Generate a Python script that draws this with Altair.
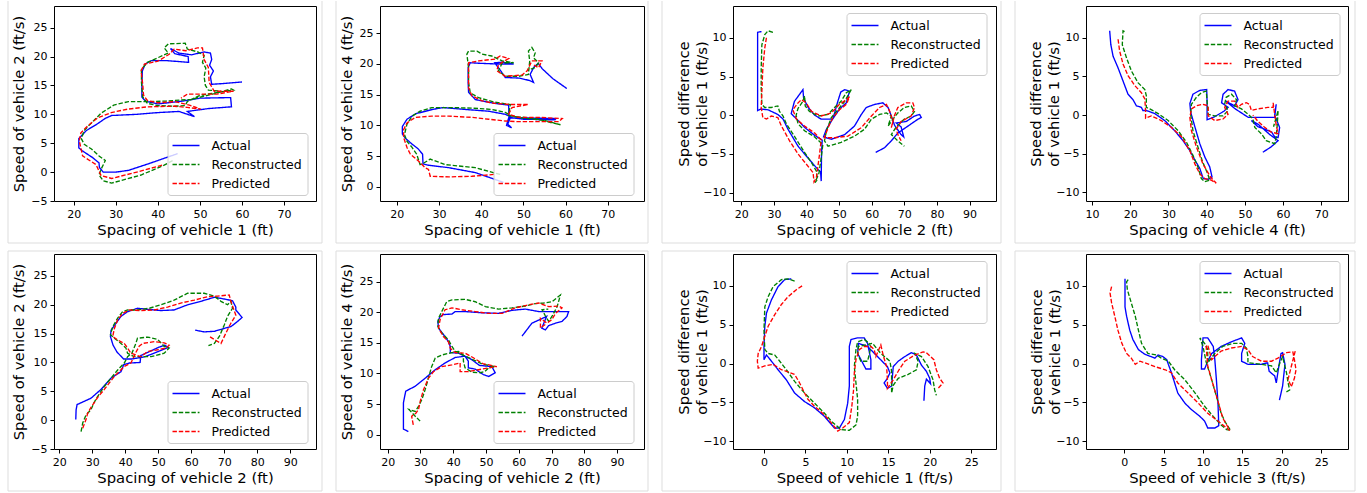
import altair as alt
import pandas as pd

SERIES = ["Actual", "Reconstructed", "Predicted"]
COLORS = ["#0000ff", "#008000", "#ff0000"]
DASHES = [[1, 0], [4.4, 1.9], [4.4, 1.9]]

# ---------------- panel 1: spacing of vehicle 1 vs speed of vehicle 2
p1_actual = [(44.7,3.2),(38,1.5),(33,0.3),(30,0.0),(27,0.0),(26.1,0.8),(26.0,1.6),(24.5,2.5),(22,3.7),(21.2,4.2),(21.2,5.8),(23,7.2),(25.5,8.3),(27.5,9.3),(29,9.8),(35,10.0),(40,10.3),(45,10.5),(48.7,9.6),(47,10.5),(52,11.0),(57.5,11.3),(57.3,12.9),(50,12.8),(46,12.3),(40,11.8),(37,12.3),(36.2,13),(36.2,15),(36.3,17.5),(37,18.7),(38.5,19.3),(42,19.3),(47.3,19.0),(47.2,20.0),(44,20.5),(43,21.4),(45,20.6),(48,20.3),(51,20.8),(52.5,20.6),(52.8,19.5),(52.3,18.5),(53.2,17.5),(52.5,16.5),(52.8,15.2),(55,15.3),(60,15.6)]
p1_recon = [(43.5,2.0),(41.5,1.2),(36,-0.5),(32,-1.3),(29,-1.9),(27,-1.5),(26,-0.5),(26.5,0.5),(27.5,2.0),(26,2.8),(24.2,4.0),(22.5,4.8),(21.8,5.8),(22.5,7.2),(23.5,8.0),(26.5,10.2),(29.5,11.6),(33,12.2),(38,12.2),(42,12.3),(48,12.6),(53,13.5),(57.5,14.4),(58.0,14.2),(53.5,13.7),(50,13.3),(47,12.2),(46.5,11.5),(44,11.4),(40,11.5),(37.5,11.9),(36.4,13),(36.1,15.5),(36.1,17.8),(37.5,19.0),(40,19.8),(42.5,20.6),(41.5,21.5),(42.5,22.2),(46.5,22.3),(47,21.3),(49.5,20.8),(51,20.2),(50.6,19),(51.4,18),(51,16.5),(51.3,15),(52,14.2),(55,14.0)]
p1_pred = [(41,1.2),(35,0.0),(29,-1.1),(26.5,-0.6),(25.3,1.3),(22.1,2.8),(21.7,4.2),(21.3,5.4),(21.7,6.8),(23.3,8.0),(25.7,9.4),(28.9,10.3),(32.8,10.9),(37.6,11.3),(43.9,11.4),(47,11.2),(50.2,10.9),(47.5,11.6),(44,12.2),(40,12.0),(37.5,12.4),(36.6,13.3),(36.4,15.2),(36,17.5),(36.8,18.7),(40,19.2),(42.7,20.4),(43.9,21.3),(46.6,21.0),(49.4,21.5),(50.6,21.5),(51,19.5),(52,18.1),(52.2,15.5),(53.4,14.0),(58,14.0),(54,13.5),(47,13.5),(45.5,12.8)]

# ---------------- panel 2: spacing of vehicle 1 vs speed of vehicle 4
p2_actual = [(45.3,0.7),(38.6,2.3),(32.3,3.1),(27.5,3.5),(26.2,3.7),(26.1,5.3),(25.0,6.2),(23.5,7.0),(22.0,7.9),(21.3,8.6),(21.3,9.8),(22.4,11.0),(24.5,11.9),(28.5,12.6),(31,12.9),(36,12.6),(41.8,12.3),(45.7,11.8),(47,11.4),(46.3,10.2),(47.2,9.6),(46.0,10.0),(46.5,11.2),(51,11.2),(57.7,11.1),(57.5,10.9),(50,11.0),(46.6,11.3),(46.5,13.3),(43,13.6),(38.6,14.2),(37,15.4),(36.9,17),(36.9,19.4),(37.4,20.2),(40,20.1),(44,20.0),(47.7,20.0),(45,20.3),(43.2,20.2),(44.5,19.0),(45.7,17.8),(49,17.7),(51.5,17.3),(52.4,17.0),(51.6,18.3),(52.5,19.5),(53.5,20.1),(54.5,19.2),(57,17.6),(60.3,16.0)]
p2_recon = [(44.5,2.0),(38.6,3.1),(31.5,3.6),(27.9,4.5),(26.5,3.9),(25.5,3.6),(24.7,5.3),(23.6,6.4),(22.4,7.4),(21.8,8.5),(22.4,10.2),(23.6,11.5),(25.5,12.3),(28.3,12.9),(33,12.9),(37.8,12.8),(42.5,12.6),(45.7,12.1),(47.3,11.5),(52.8,11.1),(56.8,10.4),(58.8,10.1),(55,10.8),(49.7,11.2),(46.5,11.6),(46.9,13.4),(43,13.8),(39.4,14.5),(37.4,15.3),(37,17),(37,19.4),(36.6,21.6),(37,22.1),(39,22.1),(40.2,21.6),(42.5,21.3),(45,20.5),(47.7,20.2),(45,20.2),(44.1,18.9),(45.7,18.0),(48.9,18.0),(51.2,18.3),(51.5,20.5),(51.2,22.1),(52,22.7),(52.8,21.8),(52.4,21.0),(53.6,20.2),(52.8,19.4),(51,19)]
p2_pred = [(43,2.0),(37.8,1.7),(32.3,1.6),(27.9,1.7),(27.5,2.8),(26.7,3.1),(25.1,4.2),(23.2,5.3),(22.4,6.4),(21.6,8.0),(21.6,9.3),(22.4,10.4),(24.4,11.3),(28.3,11.5),(32.3,11.5),(37.8,11.3),(41.8,11.0),(45.7,10.7),(48.9,10.6),(54,10.6),(58.4,10.6),(59.2,11.1),(54,11.3),(48.9,11.3),(46.5,11.8),(47.3,12.9),(51.2,13.4),(47,13.4),(43,13.6),(40.2,14.0),(37.8,14.8),(37,16.1),(37,18.9),(37,20.2),(39.4,20.5),(43.3,20.8),(44.5,21.3),(46.5,20.9),(44.1,19.9),(43.7,18.9),(45.7,18.0),(49.7,18.2),(50.9,18.9),(52,20.5),(54.4,20.5),(53.6,19.4),(52.5,19.8)]

# ---------------- panel 3: spacing of vehicle 2 vs speed difference of vehicle 1
p3_actual = [(26.2,10.8),(25.0,10.7),(25.0,7),(25.0,3),(25.0,0.6),(26,0.8),(28.2,0.7),(31.2,0.1),(32.8,-0.5),(34.3,-1.8),(37.4,-4.0),(40.4,-5.5),(43.5,-7.0),(44.3,-7.3),(44.5,-8.5),(44.6,-5),(44.8,-3.2),(42.5,-2.6),(39.5,-1.6),(37,-0.5),(35.3,0.2),(36.3,1.8),(38.9,3.3),(39.1,2.2),(40.5,1.0),(42.5,0),(44.5,-0.5),(48,-0.5),(48.6,0.3),(49.6,1.8),(50.5,3.0),(51.7,3.3),(53.2,3.1),(52.2,1.6),(50.1,0.8),(48,-0.5),(46.1,-1.8),(45.2,-2.8),(47.6,-3.1),(51.7,-2.5),(54.7,-1.4),(56.8,0.1),(58.3,1.0),(60.9,1.4),(63.4,1.6),(65,1.0),(66,-0.1),(67,-1.3),(69,-2.5),(69.8,-2.8),(69,-1.5),(67.5,-1.0),(70.6,-0.8),(73.1,-0.1),(74.7,0.1),(75.2,-0.3),(74.2,-0.5),(71.1,-1.4),(68,-2.3),(66,-3.3),(63.9,-4.2),(61.2,-4.8)]
p3_recon = [(29.7,10.7),(28.2,10.9),(27.2,10.4),(26.3,9.1),(26.1,6.1),(26.1,3.5),(26.3,1.4),(27.2,1.0),(29.2,1.0),(31.2,1.2),(31.7,0.5),(32.8,-0.1),(33.8,-1.1),(36.4,-2.8),(39.4,-4.8),(41.5,-6.1),(43.0,-7.2),(43.3,-8.3),(42.6,-8.7),(43.8,-7.5),(44.5,-5.5),(45,-3.8),(42.5,-2.8),(39.4,-2.0),(37.4,-1.1),(36.8,0),(37.4,0.9),(38.9,1.8),(39.4,2.5),(39.6,1.2),(40.9,0.5),(43.5,-0.1),(46.6,0.1),(48.6,1.0),(50.6,1.8),(52.2,2.9),(53.7,3.3),(51.7,1.8),(49.6,0.7),(47.6,-0.3),(46.1,-2.0),(45.5,-3.3),(46.6,-4.0),(50.6,-3.5),(54.7,-2.7),(57.8,-1.8),(59.9,-0.5),(62.4,0.1),(64.5,0.3),(66,-0.1),(65,-1.4),(66.5,-0.5),(68,0.3),(70,1.0),(72.1,1.2),(73.1,0.5),(72.1,-0.1),(70,-0.5),(67.5,-1.5),(66,-2.5),(68,-3.3),(70,-4.0)]
p3_pred = [(27.7,10.0),(27.2,8.7),(26.6,6.1),(26.3,3.1),(26.1,1.0),(26.6,-0.3),(27.7,-0.5),(29.2,-0.1),(31.2,-0.3),(32.3,-1.4),(34.8,-3.3),(37.4,-5.0),(39.9,-6.3),(42.0,-7.4),(42.3,-8.6),(43.0,-8.1),(44.0,-5.0),(44.5,-3.2),(42.5,-2.3),(39.4,-1.4),(36.9,-0.5),(35.8,0.7),(37.4,1.6),(38.4,2.0),(39.9,1.6),(41.5,0.5),(44.5,-0.1),(47.6,0.3),(50.1,1.4),(52.2,2.0),(53.2,2.4),(52.2,1.4),(50.1,0.7),(48.1,-0.3),(46.6,-1.6),(45.5,-2.9),(48.6,-2.9),(52.7,-2.7),(56.8,-1.6),(59.9,-0.1),(62.4,1.0),(64.5,1.4),(65.5,0.5),(66.5,-0.8),(66,-1.6),(67,0),(68,1.0),(70.6,1.6),(72.6,1.6),(73.1,1.0),(72.1,-0.1),(69,-0.8),(67.5,-1.8),(68,-2.5),(69,-3.3)]

# ---------------- panel 4: spacing of vehicle 4 vs speed difference of vehicle 1
p4_actual = [(14.6,10.9),(14.9,9.1),(15.5,7.6),(16.8,6.1),(18.1,4.4),(19.4,2.7),(20.7,2.0),(21.6,1.2),(22.9,1.0),(23.3,0.6),(24.2,0.6),(26.4,0.2),(29.0,-0.7),(31.6,-2.0),(33.8,-3.3),(35.6,-4.6),(36.9,-5.8),(38.2,-6.9),(39.1,-8.2),(40.4,-8.3),(41.4,-8.0),(40.8,-6.7),(39.5,-5.4),(38.2,-3.7),(36.9,-1.5),(35.8,0.4),(35.6,1.5),(36.4,2.7),(38.2,3.2),(40.0,3.3),(40.1,1.8),(40.1,-0.6),(42.1,-0.2),(44.5,0.5),(45.6,1.0),(43.9,1.6),(44.3,2.7),(45.6,3.3),(47.3,3.1),(48.2,2.0),(47.3,1.2),(45,1.8),(47.5,0.8),(50.9,-0.3),(54.3,-0.3),(57.8,-0.3),(58.2,1.4),(57.8,0),(59.1,-1.6),(58.7,-2.9),(57.8,-2.8),(57,-2.2),(55.2,-1.8),(53.4,-1.5),(51.7,-0.7),(53.5,-1.2),(56.5,-2.5),(58.7,-3.3),(56.9,-4.1),(54.7,-4.8)]
p4_recon = [(18.5,10.8),(18.1,10.9),(17.9,9.1),(19.0,7.4),(20.3,5.7),(22.0,4.2),(23.8,3.3),(24.2,2.5),(24.2,1.0),(25.1,0.8),(27.3,0.2),(29.9,-0.7),(32.5,-2.0),(34.7,-3.5),(36.4,-5.2),(37.7,-6.7),(38.6,-8.2),(39.5,-8.6),(40.8,-8.4),(40.2,-7.5),(38.9,-6.0),(37.7,-4.1),(36.4,-2.0),(35.8,0.1),(36.0,1.4),(37.3,2.3),(38.6,2.9),(39.9,3.1),(40.1,1.8),(40.4,0.1),(42.1,-0.1),(44.3,-0.1),(45.6,0.6),(44.7,1.4),(45.1,2.3),(46.5,2.7),(47.8,2.0),(47.3,1.2),(49.1,0.8),(50.9,0.1),(52.1,-0.5),(52.6,-1.6),(54.3,-2.4),(55.6,-3.3),(57.8,-3.7),(58.2,-2.8),(58.5,-1.1),(58.7,0.6),(58.2,-0.3),(57.5,-1.5)]
p4_pred = [(16.8,9.8),(17.2,8.3),(18.1,6.6),(19.4,5.1),(21.2,3.8),(22.9,2.9),(23.8,2.1),(24.0,0.6),(24.0,-0.4),(25.5,-0.1),(28.1,-0.7),(30.8,-1.6),(33.4,-2.8),(35.6,-4.6),(36.9,-6.3),(38.2,-7.6),(39.5,-8.2),(41.2,-8.4),(42.5,-8.8),(41.0,-8.0),(39.0,-6.3),(37.3,-4.1),(36.0,-2.0),(35.6,-0.3),(36.0,0.8),(37.3,1.2),(39.0,1.4),(40.4,1.2),(40.4,-0.1),(42.1,-0.7),(44.3,-0.5),(45.6,0.1),(44.7,1.0),(45.6,1.8),(47.3,1.8),(48.2,1.0),(49.1,1.4),(50.4,1.6),(51.2,1.4),(51.7,0.6),(53.4,0.8),(56.0,1.0),(57.4,1.0),(57.4,1.6),(57.8,0.1),(58.2,-1.3),(58.7,-2.4),(56.9,-2.2),(55,-1.5),(53.4,-0.8),(52.1,0.0)]

# ---------------- panel 5: spacing of vehicle 2 vs speed of vehicle 2
p5_actual = [(25.0,0.1),(25.1,1.8),(25.4,2.7),(29.6,3.8),(32.6,5.3),(35.7,7.3),(38.7,8.4),(39.5,9.6),(41.2,9.9),(44.5,10.0),(44.7,11.2),(47,11.8),(50,12.6),(52,13.0),(53,12.6),(50,11.9),(46,11.0),(42,10.6),(39.5,10.6),(37.5,11.8),(36.3,13.0),(35.5,14.5),(35.7,15.6),(37.2,16.8),(38.7,18.0),(40.7,18.8),(43.7,19.4),(46.8,19.2),(50.8,19.0),(54.8,19.1),(58.9,20.0),(62.9,20.6),(67,21.3),(70,21.0),(72.5,20.7),(73.5,19.6),(73.5,19.1),(75.4,17.8),(74,17.1),(72,16.2),(70,15.9),(67,15.4),(63.9,15.3),(61.2,15.6)]
p5_recon = [(26.6,-2.0),(27.1,-0.5),(28.1,0.9),(29.6,1.8),(30.5,3.0),(31.6,4.1),(33.6,5.8),(35.7,7.3),(37.7,8.7),(39.7,9.9),(40.7,11.0),(42,11.6),(43.2,13.3),(43.7,14.2),(46.8,14.4),(49.8,14.0),(51.8,12.8),(53.3,12.5),(51.8,11.6),(47.8,11.0),(42.7,11.0),(40.7,11.6),(40.2,12.5),(38.7,13.3),(36.7,14.2),(35.5,14.8),(36.2,16.2),(37.7,17.7),(39.2,18.8),(40.7,19.1),(43.7,19.1),(47.3,19.4),(50.8,20.0),(54.8,20.8),(58.9,22.0),(63.9,22.0),(67,21.5),(69,20.6),(71,20.0),(72,20.6),(72.5,19.4),(71,18.0),(70,16.5),(68.5,14.5),(67,13.3),(65.2,12.9)]
p5_pred = [(27.1,-1.4),(28.1,0.1),(28.6,1.2),(29.6,2.2),(31.6,3.9),(33.6,5.3),(36.7,7.6),(39.7,9.3),(41.7,9.9),(43,11.5),(44.2,12.8),(45.3,13.3),(48.8,13.6),(51.8,13.4),(53.3,13.0),(52.3,12.5),(49.8,12.2),(46.8,11.9),(44.7,11.0),(41.7,11.6),(40.7,12.5),(39.7,13.3),(37.7,13.9),(36.2,14.5),(36.7,15.9),(37.7,17.4),(39.2,18.5),(41.2,19.1),(44.7,19.0),(48.8,19.1),(52.8,19.6),(56.8,20.3),(60.9,20.8),(65,21.4),(68,21.5),(71.5,21.7),(72,20.6),(73.5,18.2),(72,16.8),(70.5,15.1),(69,13.3),(67.5,13.8),(65.5,14.5)]

# ---------------- panel 6: spacing of vehicle 2 vs speed of vehicle 4
p6_actual = [(26.3,0.5),(24.8,0.9),(24.8,3),(24.8,5.2),(25.5,7.1),(28.4,7.9),(31.4,9.2),(34.5,10.6),(37.5,11.7),(40.6,12.6),(43.6,12.8),(44.6,12.0),(44.6,10.9),(46.7,10.7),(49.2,9.8),(50.8,9.5),(52.8,10.1),(51.8,11.1),(48,11.3),(45.5,12.3),(41.6,13.3),(39.1,13.4),(39.1,14.4),(38.5,15.2),(37.5,16.0),(35.5,17.4),(35.3,18.5),(36.0,19.3),(37.0,19.6),(39.6,19.7),(40.6,20.1),(43.6,20.1),(48.7,19.9),(53.8,19.8),(57.9,20.3),(62.0,20.5),(66.1,20.1),(70.1,20.1),(75.2,20.1),(74.7,19.3),(73.2,18.5),(71.2,18.2),(69.1,17.8),(68.1,17.1),(67,17.4),(68.5,19.3),(64,18.2),(61,16.1)]
p6_recon = [(29.9,2.2),(28.4,3.0),(26.5,4.1),(28.4,3.8),(29.4,4.6),(30.4,5.7),(31.4,7.3),(32.4,9.2),(33.4,11.1),(34.5,12.5),(36.5,13.0),(39.6,13.4),(41.6,13.6),(43.1,13.0),(43.1,12.0),(43.6,10.9),(45.7,10.2),(48.2,10.1),(49.6,10.3),(50.8,10.9),(52.8,11.1),(49,11.5),(45,12.5),(40.6,13.6),(39.6,14.4),(38.5,15.5),(36.5,16.6),(35.3,17.7),(35.5,19.0),(36.5,20.1),(38.0,21.7),(39.6,22.0),(43.6,22.1),(46.7,21.7),(49.8,20.9),(53.8,20.5),(57.9,20.7),(62.0,21.0),(65.0,21.4),(67.6,21.5),(70.1,21.7),(72.2,22.6),(72.7,22.8),(71.7,20.9),(70.1,19.3),(69.1,18.5),(68,19.5),(67.1,20.4),(69,20.5)]
p6_pred = [(27.8,1.6),(27.3,3.0),(28.6,3.5),(29.4,4.1),(29.9,5.4),(30.9,7.3),(32.4,9.2),(34.0,10.3),(36.5,11.1),(39.6,11.4),(42.1,11.7),(42.1,10.3),(44.6,10.3),(47.7,10.6),(50.8,10.9),(53.3,11.1),(49,11.6),(46,12.6),(43.6,13.3),(40.6,13.4),(39.1,14.1),(38.5,15.2),(37.0,16.0),(35.5,17.4),(36.0,18.8),(37.5,20.4),(39.6,20.7),(42.6,20.4),(46.7,20.1),(50.8,19.8),(54.9,19.8),(58.9,20.7),(63.0,21.2),(66.1,21.5),(69.1,20.9),(72.2,21.0),(73.2,20.7),(71.2,19.8),(70.1,18.8),(68.6,18.2),(66.6,19.0),(66.6,17.4),(68.1,18.0)]

# ---------------- panel 7: speed of vehicle 1 vs speed difference of vehicle 1
p7_actual = [(3.3,10.9),(2.5,10.8),(1.7,9.9),(0.9,8.2),(0.3,6.5),(0.1,4.8),(0.0,2.2),(0.0,0.5),(0.3,1.1),(0.9,0.3),(1.7,-0.8),(2.7,-2.1),(3.7,-3.8),(4.9,-4.9),(6.1,-5.7),(7.3,-6.8),(8.5,-8.3),(9.1,-8.3),(9.7,-7.2),(10.1,-5.1),(10.3,-2.9),(10.3,0.1),(10.3,2.2),(10.5,3.1),(11.3,3.3),(12.1,3.3),(12.5,2.6),(12.9,0.5),(12.9,-0.7),(12.3,-0.7),(11.8,0.3),(11.3,1.3),(11.4,2.6),(12.5,2.2),(13.7,0.9),(14.9,-0.4),(15.2,-1.2),(14.9,-1.9),(14.5,-2.5),(14.9,-3.2),(15.4,-2.9),(15.6,-0.4),(16.2,0.3),(17.0,0.9),(17.8,1.4),(18.4,1.1),(19.0,-0.2),(19.6,-1.0),(20.0,-1.9),(20.1,-2.6),(19.6,-2.0),(19.4,-2.9),(19.3,-4.8)]
p7_recon = [(3.7,10.6),(2.9,10.9),(2.1,10.8),(1.1,9.9),(0.5,8.6),(0.1,7.3),(0.0,4.3),(0.1,1.8),(0.5,1.3),(1.3,1.1),(1.9,0.3),(2.7,-0.8),(3.7,-2.3),(4.9,-3.8),(6.1,-5.1),(7.3,-6.4),(8.3,-7.6),(9.3,-8.5),(10.3,-8.6),(11.1,-7.9),(11.3,-6.8),(11.3,-4.6),(11.1,-2.5),(10.9,-0.4),(11.1,1.8),(11.3,2.8),(12.1,3.1),(12.7,2.6),(12.9,2.1),(12.5,0.3),(11.7,0.3),(11.3,1.2),(11.4,2.2),(13.1,2.6),(14.1,1.3),(15.2,0.3),(15.4,-1.0),(15.4,-2.1),(15.4,-3.8),(15.6,-2.8),(16.2,-1.9),(17.4,-1.4),(18.4,-0.8),(18.6,0.3),(18.2,1.3),(19.0,0.9),(19.8,-0.4),(20.4,-2.1),(20.6,-3.4),(20.8,-4.1)]
p7_pred = [(4.6,10.0),(3.9,9.5),(2.9,8.6),(2.1,7.6),(1.3,6.3),(0.5,4.8),(0.1,3.5),(-0.3,2.2),(-0.7,1.3),(-0.8,0.3),(-0.7,-0.6),(0.1,-0.3),(1.1,-0.1),(2.1,-0.8),(2.7,-1.0),(3.7,-1.4),(4.3,-2.5),(4.9,-3.8),(5.3,-4.6),(6.1,-5.5),(7.3,-6.6),(8.1,-7.6),(8.9,-8.7),(9.5,-8.3),(10.3,-7.6),(10.6,-5.5),(10.8,-3.5),(10.9,-1.2),(11.1,0.5),(11.5,1.8),(12.1,2.2),(12.9,2.2),(13.3,1.8),(13.5,0.9),(14.1,2.4),(14.4,1.0),(14.8,-0.4),(14.9,-2.1),(14.9,-3.2),(15.6,-2.1),(16.3,-0.8),(17.0,0.3),(18.2,1.1),(19.2,1.5),(19.6,1.4),(20.5,0.5),(20.8,-0.8),(21.2,-1.9),(21.6,-2.5),(21.0,-3.2)]

# ---------------- panel 8: speed of vehicle 3 vs speed difference of vehicle 1
p8_actual = [(0.1,10.9),(0.1,7.3),(0.3,6.1),(0.7,4.3),(1.1,3.1),(1.8,1.8),(2.6,1.2),(3.9,0.7),(4.3,1.1),(4.9,0.9),(5.4,0.5),(5.6,-0.1),(6.0,-1.2),(6.4,-2.5),(6.8,-3.8),(7.7,-5.1),(8.5,-5.9),(9.6,-6.8),(10.2,-7.4),(10.6,-8.3),(11.5,-8.3),(12.0,-8.0),(11.9,-5.1),(11.7,-2.1),(11.5,0.5),(11.3,2.2),(10.6,3.3),(10.0,3.3),(9.8,0.5),(9.8,-0.7),(10.2,-0.7),(10.6,0.3),(11.1,1.3),(12.3,2.2),(13.6,2.8),(14.9,3.3),(15.3,2.6),(14.9,1.3),(14.9,0.3),(15.7,-0.1),(17.4,-0.1),(18.2,0.1),(18.4,-1.0),(19.1,-1.6),(19.3,-2.5),(19.6,-0.5),(19.9,1.3),(20.1,1.4),(20.4,-0.1),(20.1,-2.9),(19.7,-4.7)]
p8_recon = [(0.5,10.8),(0.3,10.5),(0.4,9.5),(0.9,7.8),(1.4,6.1),(1.8,4.3),(2.2,2.6),(3.0,1.3),(4.1,1.1),(4.7,0.7),(5.6,0.3),(6.4,-0.8),(7.7,-2.1),(9.0,-3.8),(10.2,-5.5),(11.3,-6.8),(12.3,-7.9),(13.0,-8.5),(13.5,-8.6),(12.8,-7.5),(12.3,-6.4),(11.7,-4.2),(11.1,-2.1),(10.4,0.2),(10.0,2.2),(9.6,3.3),(10.2,2.6),(10.6,1.8),(10.6,0.1),(11.5,1.3),(12.5,2.2),(13.8,2.6),(14.9,2.6),(15.5,2.0),(15.7,0.9),(15.7,0.1),(17.4,-0.1),(18.7,-0.3),(19.3,-1.2),(19.8,0.2),(20.1,0.9),(20.6,-1.2),(20.8,-2.5),(21.0,-3.4),(20.5,-3.7)]
p8_pred = [(-1.6,9.9),(-1.8,9.1),(-1.6,7.8),(-1.2,6.1),(-0.8,4.3),(-0.3,2.6),(0.3,1.3),(0.9,0.7),(1.4,-0.1),(2.0,0.3),(2.6,0.1),(3.9,-0.4),(5.2,-0.8),(6.0,-1.2),(6.8,-2.5),(8.1,-3.8),(9.4,-5.1),(10.6,-6.4),(11.9,-7.4),(13.0,-8.3),(13.4,-8.6),(12.5,-7.0),(11.8,-4.5),(11.1,-2.1),(10.6,-0.3),(10.4,2.2),(10.6,2.4),(11.1,0.5),(11.5,0.9),(12.3,1.6),(13.6,2.0),(14.9,2.2),(15.7,1.8),(16.3,0.9),(17.4,0.3),(18.7,0.3),(19.5,0.7),(20.6,1.4),(21.4,1.5),(21.6,0.5),(21.8,-0.8),(21.6,-1.9),(21.2,-3.0),(20.8,-2.0),(21.7,1.6)]

# axis ticks and titles
ticks_20_70 = [20, 30, 40, 50, 60, 70]
ticks_20_90 = [20, 30, 40, 50, 60, 70, 80, 90]
ticks_10_70 = [10, 20, 30, 40, 50, 60, 70]
ticks_0_25 = [0, 5, 10, 15, 20, 25]
ticks_m5_25 = [-5, 0, 5, 10, 15, 20, 25]
ticks_m10_10 = [-10, -5, 0, 5, 10]
DIFF_TITLE = ["Speed difference", "of vehicle 1 (ft/s)"]

# legend placement: lower right ("low") or upper right ("up") corner
PANELS = [
    dict(data=(p1_actual, p1_recon, p1_pred), xdom=[15.3, 77.6], ydom=[-5, 28.75],
         xv=ticks_20_70, yv=ticks_m5_25, xt="Spacing of vehicle 1 (ft)", yt="Speed of vehicle 2 (ft/s)",
         leg="low", w=262, bl=46, br=6, tx=-34.5),
    dict(data=(p2_actual, p2_recon, p2_pred), xdom=[16.0, 78.6], ydom=[-2.33, 29.45],
         xv=ticks_20_70, yv=ticks_0_25, xt="Spacing of vehicle 1 (ft)", yt="Speed of vehicle 4 (ft/s)",
         leg="low", w=264, bl=44, br=4, tx=-33),
    dict(data=(p3_actual, p3_recon, p3_pred), xdom=[17.45, 98.1], ydom=[-11.07, 14.1],
         xv=ticks_20_90, yv=ticks_m10_10, xt="Spacing of vehicle 2 (ft)", yt=DIFF_TITLE,
         leg="up", w=263, bl=71, br=5, tx=-49),
    dict(data=(p4_actual, p4_recon, p4_pred), xdom=[8.4, 77.0], ydom=[-11.1, 14.1],
         xv=ticks_10_70, yv=ticks_m10_10, xt="Spacing of vehicle 4 (ft)", yt=DIFF_TITLE,
         leg="up", w=262, bl=71, br=7, tx=-50),
    dict(data=(p5_actual, p5_recon, p5_pred), xdom=[18.4, 97.8], ydom=[-5, 28.8],
         xv=ticks_20_90, yv=ticks_m5_25, xt="Spacing of vehicle 2 (ft)", yt="Speed of vehicle 2 (ft/s)",
         leg="low", w=262, bl=46, br=6, tx=-34.5),
    dict(data=(p6_actual, p6_recon, p6_pred), xdom=[17.65, 98.2], ydom=[-2.35, 29.5],
         xv=ticks_20_90, yv=ticks_0_25, xt="Spacing of vehicle 2 (ft)", yt="Speed of vehicle 4 (ft/s)",
         leg="low", w=264, bl=44, br=4, tx=-33),
    dict(data=(p7_actual, p7_recon, p7_pred), xdom=[-3.74, 28.0], ydom=[-11.0, 14.1],
         xv=ticks_0_25, yv=ticks_m10_10, xt="Speed of vehicle 1 (ft/s)", yt=DIFF_TITLE,
         leg="up", w=263, bl=71, br=5, tx=-48.5),
    dict(data=(p8_actual, p8_recon, p8_pred), xdom=[-4.85, 28.4], ydom=[-11.0, 14.1],
         xv=ticks_0_25, yv=ticks_m10_10, xt="Speed of vehicle 3 (ft/s)", yt=DIFF_TITLE,
         leg="up", w=262, bl=71, br=7, tx=-49),
]

H = 195
BOX = "#dddddd"
COLOR_EXPR = ("datum.value === 'Actual' ? '#0000ff' : "
              "(datum.value === 'Reconstructed' ? '#008000' : '#ff0000')")
DASH_EXPR = "datum.value === 'Actual' ? [1, 0] : [4.4, 1.9]"


def to_frame(series_lists):
    rows = []
    for name, pts in zip(SERIES, series_lists):
        for i, (x, y) in enumerate(pts):
            rows.append({"x": x, "y": y, "series": name, "order": i})
    return pd.DataFrame(rows)


def panel(cfg, top_row):
    W = cfg["w"]
    df = to_frame(cfg["data"])
    legend = alt.Legend(
        title=None, orient="none", legendX=113.5, legendY=(127 if cfg["leg"] == "low" else 7),
        padding=5,
        fillColor="rgba(255,255,255,0.8)", strokeColor="#cccccc", cornerRadius=3,
        symbolType="M-2,0H2", symbolSize=182, symbolStrokeWidth=1.3, symbolOffset=6,
        symbolStrokeColor=alt.ExprRef(COLOR_EXPR),
        symbolDash=alt.ExprRef(DASH_EXPR),
        labelFont="DejaVu Sans", labelFontSize=12.5, labelColor="black",
        labelOffset=18, rowPadding=5,
    )
    lines = alt.Chart(df).mark_line(strokeWidth=1.35).encode(
        x=alt.X("x:Q", scale=alt.Scale(domain=cfg["xdom"], nice=False, zero=False),
                axis=alt.Axis(values=cfg["xv"], title=cfg["xt"], format="d", titleY=29)),
        y=alt.Y("y:Q", scale=alt.Scale(domain=cfg["ydom"], nice=False, zero=False),
                axis=alt.Axis(values=cfg["yv"], title=cfg["yt"], format="d", titleX=cfg["tx"])),
        color=alt.Color("series:N", scale=alt.Scale(domain=SERIES, range=COLORS), legend=legend),
        strokeDash=alt.StrokeDash("series:N", scale=alt.Scale(domain=SERIES, range=DASHES), legend=None),
        order="order:Q",
    )
    one = pd.DataFrame({"k": [0]})
    left, right = -cfg["bl"], W + cfg["br"]
    top = -5 if top_row else -3
    bottom = H + 42
    rule = alt.Chart(one).mark_rule(color=BOX, strokeWidth=1)
    layers = [
        rule.encode(x=alt.value(left), y=alt.value(top), y2=alt.value(bottom)),
        rule.encode(x=alt.value(right), y=alt.value(top), y2=alt.value(bottom)),
        rule.encode(x=alt.value(left), x2=alt.value(right), y=alt.value(bottom)),
    ]
    if not top_row:
        layers.append(rule.encode(x=alt.value(left), x2=alt.value(right), y=alt.value(top)))
    return alt.layer(*layers, lines).properties(width=W, height=H)


def row(cfgs, top_row):
    return alt.hconcat(*[panel(c, top_row) for c in cfgs], spacing=12).resolve_scale(
        color="independent", strokeDash="independent"
    ).resolve_legend(color="independent", strokeDash="independent")


chart = alt.vconcat(row(PANELS[:4], True), row(PANELS[4:], False), spacing=6).resolve_scale(
    color="independent", strokeDash="independent"
).resolve_legend(
    color="independent", strokeDash="independent"
).properties(
    padding={"left": 7, "top": 0, "right": 0, "bottom": 0}
).configure(
    font="DejaVu Sans", background="white"
).configure_view(
    stroke="black", strokeWidth=1
).configure_axis(
    domain=False, grid=False, tickColor="black", tickSize=4, tickWidth=1,
    labelFont="DejaVu Sans", labelFontSize=11, labelColor="black", labelPadding=3,
    labelFlush=False, labelOverlap=False,
    titleFont="DejaVu Sans", titleFontSize=14.8, titleFontWeight="normal", titleColor="black",
    titleBaseline="middle", titleLineHeight=18,
)

chart.save("out.html", embed_options={"renderer": "svg", "actions": False})
